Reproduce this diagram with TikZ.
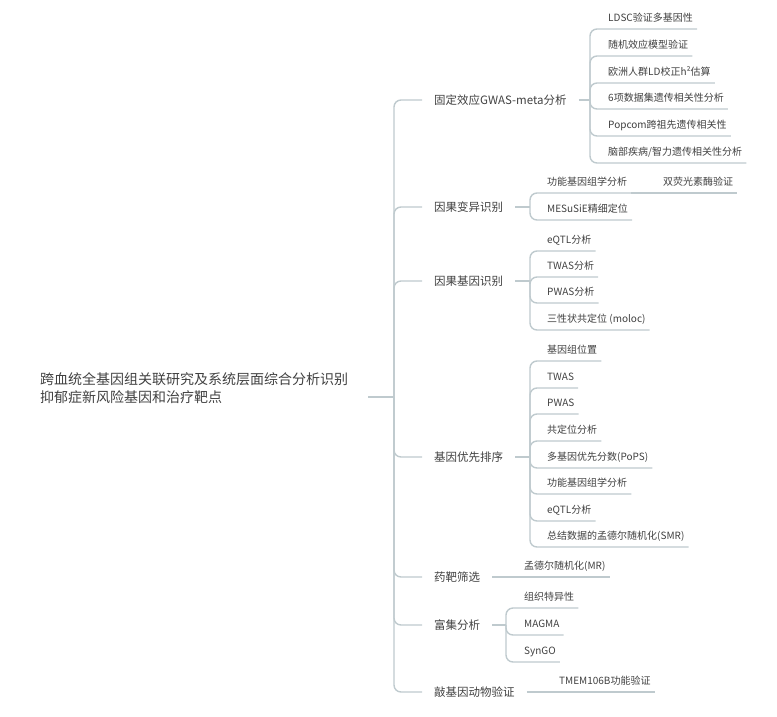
\documentclass[tikz,border=0pt]{standalone}
\usepackage{fontspec}
\setmainfont{Noto Sans CJK SC}
\definecolor{lnc}{HTML}{BFCACE}
\definecolor{tx}{HTML}{404040}
\begin{document}
\begin{tikzpicture}[x=1pt,y=-1pt,
  conn/.style={draw=lnc, line width=1.4pt, rounded corners=7pt},
  rootnode/.style={font=\fontsize{14}{18}\selectfont, text=tx, align=left, anchor=west, inner xsep=20pt, inner ysep=0pt, text height=12pt, text depth=1.4pt},
  topic/.style={font=\fontsize{11.5}{14}\selectfont, text=tx, anchor=west, inner xsep=12pt, inner ysep=0pt, text height=10pt, text depth=1.2pt},
  sub/.style={font=\fontsize{10}{12}\selectfont, text=tx, anchor=south west, inner xsep=4pt, inner ysep=0pt, text height=9pt, text depth=7pt},
]
\useasboundingbox (0,0) rectangle (777,716);

% root
\node[rootnode] (root) at (20,397) {跨血统全基因组关联研究及系统层面综合分析识别\\抑郁症新风险基因和治疗靶点};
\coordinate (rj) at (394,397);
\draw[conn] (root.east) -- (rj);

% main topics
\node[topic] (p1) at (422,100) {固定效应GWAS-meta分析};
\node[topic] (p2) at (422,207) {因果变异识别};
\node[topic] (p3) at (422,281) {因果基因识别};
\node[topic] (p4) at (422,457) {基因优先排序};
\node[topic] (p5) at (422,577) {药靶筛选};
\node[topic] (p6) at (422,625) {富集分析};
\node[topic] (p7) at (422,692) {敲基因动物验证};
\foreach \p in {p1,p2,p3,p4,p5,p6,p7} {
  \draw[conn] (rj) |- (\p.west);
}

% junctions
\coordinate (j1) at (590,100);
\coordinate (j2) at (530,207);
\coordinate (j3) at (530,281);
\coordinate (j4) at (530,457);
\coordinate (j6) at (506,625);
\draw[conn] (p1.east) -- (j1);
\draw[conn] (p2.east) -- (j2);
\draw[conn] (p3.east) -- (j3);
\draw[conn] (p4.east) -- (j4);
\draw[conn] (p6.east) -- (j6);

% children of p1
\node[sub] (c11) at (604,29) {LDSC验证多基因性};
\node[sub] (c12) at (604,56) {随机效应模型验证};
\node[sub] (c13) at (604,83) {欧洲人群LD校正h²估算};
\node[sub] (c14) at (604,109) {6项数据集遗传相关性分析};
\node[sub] (c15) at (604,136) {Popcom跨祖先遗传相关性};
\node[sub] (c16) at (604,163) {脑部疾病/智力遗传相关性分析};
\foreach \c in {c11,c12,c13,c14,c15,c16} {
  \draw[conn] (j1) |- (\c.south west) -- (\c.south east);
}

% children of p2
\node[sub] (c21) at (543,193) {功能基因组学分析};
\node[sub] (c22) at (543,220) {MESuSiE精细定位};
\node[sub] (g211) at (659,193) {双荧光素酶验证};
\foreach \c in {c21,c22} {
  \draw[conn] (j2) |- (\c.south west) -- (\c.south east);
}
\draw[conn] (c21.south east) -- (g211.south west) -- (g211.south east);

% children of p3
\node[sub] (c31) at (543,251) {eQTL分析};
\node[sub] (c32) at (543,277) {TWAS分析};
\node[sub] (c33) at (543,303) {PWAS分析};
\node[sub] (c34) at (543,330) {三性状共定位 (moloc)};
\foreach \c in {c31,c32,c33,c34} {
  \draw[conn] (j3) |- (\c.south west) -- (\c.south east);
}

% children of p4
\node[sub] (c41) at (543,361) {基因组位置};
\node[sub] (c42) at (543,388) {TWAS};
\node[sub] (c43) at (543,414) {PWAS};
\node[sub] (c44) at (543,441) {共定位分析};
\node[sub] (c45) at (543,468) {多基因优先分数(PoPS)};
\node[sub] (c46) at (543,494) {功能基因组学分析};
\node[sub] (c47) at (543,521) {eQTL分析};
\node[sub] (c48) at (543,547) {总结数据的孟德尔随机化(SMR)};
\foreach \c in {c41,c42,c43,c44,c45,c46,c47,c48} {
  \draw[conn] (j4) |- (\c.south west) -- (\c.south east);
}

% child of p5
\node[sub] (c51) at (520,577) {孟德尔随机化(MR)};
\draw[conn] (p5.east) -- (c51.south west) -- (c51.south east);

% children of p6
\node[sub] (c61) at (520,608) {组织特异性};
\node[sub] (c62) at (520,635) {MAGMA};
\node[sub] (c63) at (520,662) {SynGO};
\foreach \c in {c61,c62,c63} {
  \draw[conn] (j6) |- (\c.south west) -- (\c.south east);
}

% child of p7
\node[sub] (c71) at (555,692) {TMEM106B功能验证};
\draw[conn] (p7.east) -- (c71.south west) -- (c71.south east);
\end{tikzpicture}
\end{document}
